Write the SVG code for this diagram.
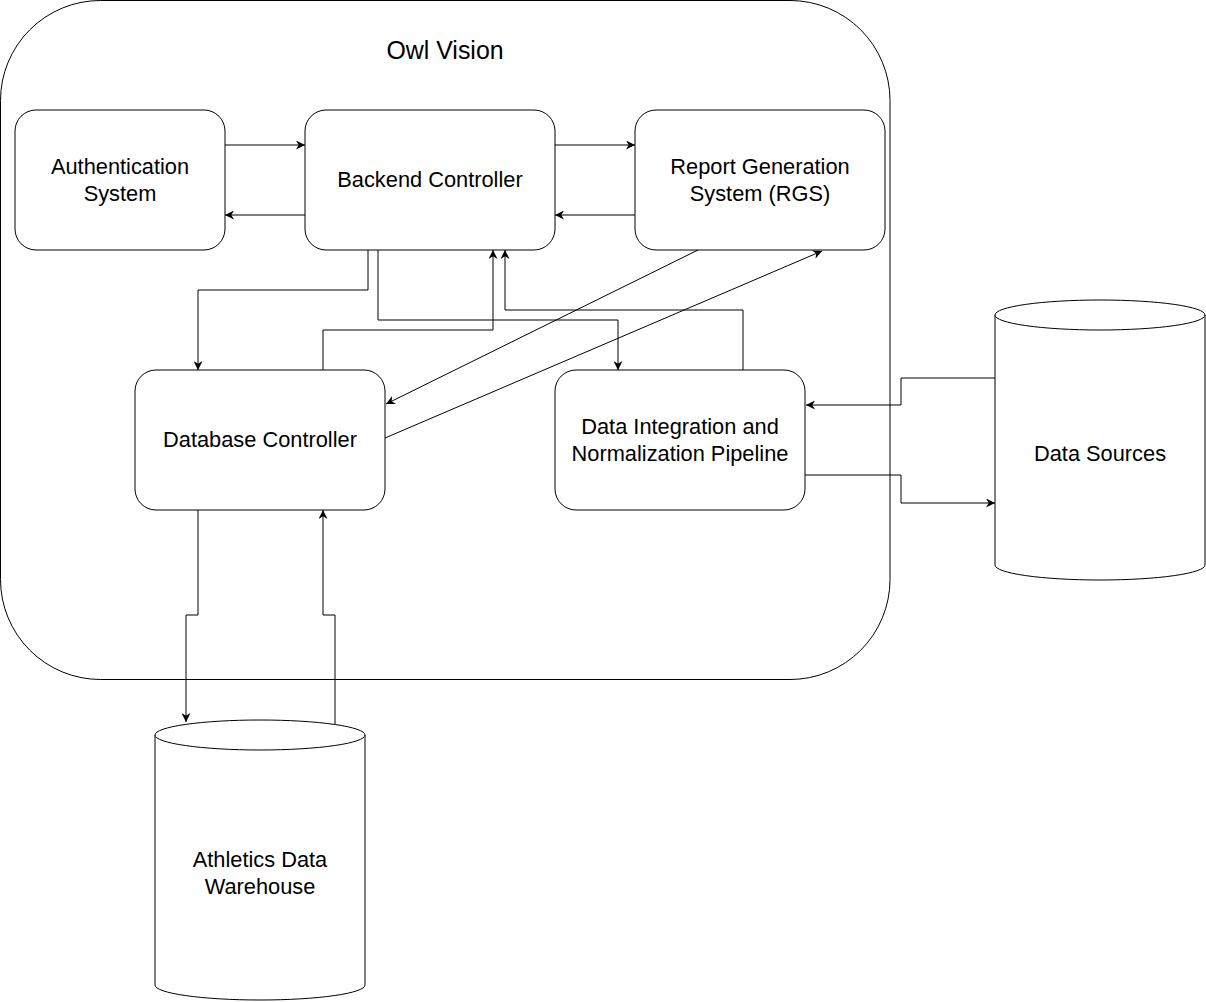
<svg xmlns="http://www.w3.org/2000/svg" width="1206" height="1002" viewBox="0 0 1206 1002">
<style>
.box{fill:#fff;stroke:#000;stroke-width:1}
.lbl{font-family:"Liberation Sans",Helvetica,Arial,sans-serif;font-size:21.8px;fill:#000;text-anchor:middle}
.title{font-family:"Liberation Sans",Helvetica,Arial,sans-serif;font-size:24.9px;fill:#000;text-anchor:middle}
.edge{fill:none;stroke:#000;stroke-width:1;marker-end:url(#arr)}
</style>
<defs>
<marker id="arr" viewBox="0 0 10 10" refX="10" refY="5" markerWidth="9" markerHeight="9" markerUnits="userSpaceOnUse" orient="auto">
<path d="M0,0 L10,5 L0,10 L3,5 Z" fill="#000"/>
</marker>
</defs>
<rect width="1206" height="1002" fill="#fff"/>
<g id="owl-vision">
<rect class="box" x="0.5" y="0.5" width="889.5" height="679" rx="100" ry="100"/>
<text class="title" x="445" y="59">Owl Vision</text>
</g>
<g id="auth">
<rect class="box" x="15" y="110" width="210" height="140" rx="21" ry="21"/>
<text class="lbl" x="120" y="174">Authentication</text>
<text class="lbl" x="120" y="201">System</text>
</g>
<g id="backend">
<rect class="box" x="305" y="110" width="250" height="140" rx="21" ry="21"/>
<text class="lbl" x="430" y="187">Backend Controller</text>
</g>
<g id="rgs">
<rect class="box" x="635" y="110" width="250" height="140" rx="21" ry="21"/>
<text class="lbl" x="760" y="174">Report Generation</text>
<text class="lbl" x="760" y="201">System (RGS)</text>
</g>
<g id="dbctrl">
<rect class="box" x="135" y="370" width="250" height="140" rx="21" ry="21"/>
<text class="lbl" x="260" y="447">Database Controller</text>
</g>
<g id="pipeline">
<rect class="box" x="555" y="370" width="250" height="140" rx="21" ry="21"/>
<text class="lbl" x="680" y="434">Data Integration and</text>
<text class="lbl" x="680" y="461">Normalization Pipeline</text>
</g>
<g id="datasources">
<path class="box" d="M995,315 A105,15 0 0 1 1205,315 V565 A105,15 0 0 1 995,565 Z"/>
<path class="box" fill="none" d="M995,315 A105,15 0 0 0 1205,315"/>
<text class="lbl" x="1100" y="461">Data Sources</text>
</g>
<g id="warehouse">
<path class="box" d="M155,735 A105,15 0 0 1 365,735 V985 A105,15 0 0 1 155,985 Z"/>
<path class="box" fill="none" d="M155,735 A105,15 0 0 0 365,735"/>
<text class="lbl" x="260" y="867">Athletics Data</text>
<text class="lbl" x="260" y="894">Warehouse</text>
</g>
<g id="connectors">
<path class="edge" d="M225,145 H305"/>
<path class="edge" d="M305,215 H225"/>
<path class="edge" d="M555,145 H635"/>
<path class="edge" d="M635,215 H555"/>
<path class="edge" d="M368,250 V290 H198 V370"/>
<path class="edge" d="M378,250 V320 H618 V370"/>
<path class="edge" d="M323,370 V330 H493 V250"/>
<path class="edge" d="M743,370 V310 H505 V250"/>
<path class="edge" d="M698,250 L386,404"/>
<path class="edge" d="M385,438 L822,251"/>
<path class="edge" d="M995,378 H901 V405 H806"/>
<path class="edge" d="M805,475 H901 V503 H995"/>
<path class="edge" d="M198,510 V615 H186 V722"/>
<path class="edge" d="M335,724 V615 H323 V510"/>
</g>
</svg>
